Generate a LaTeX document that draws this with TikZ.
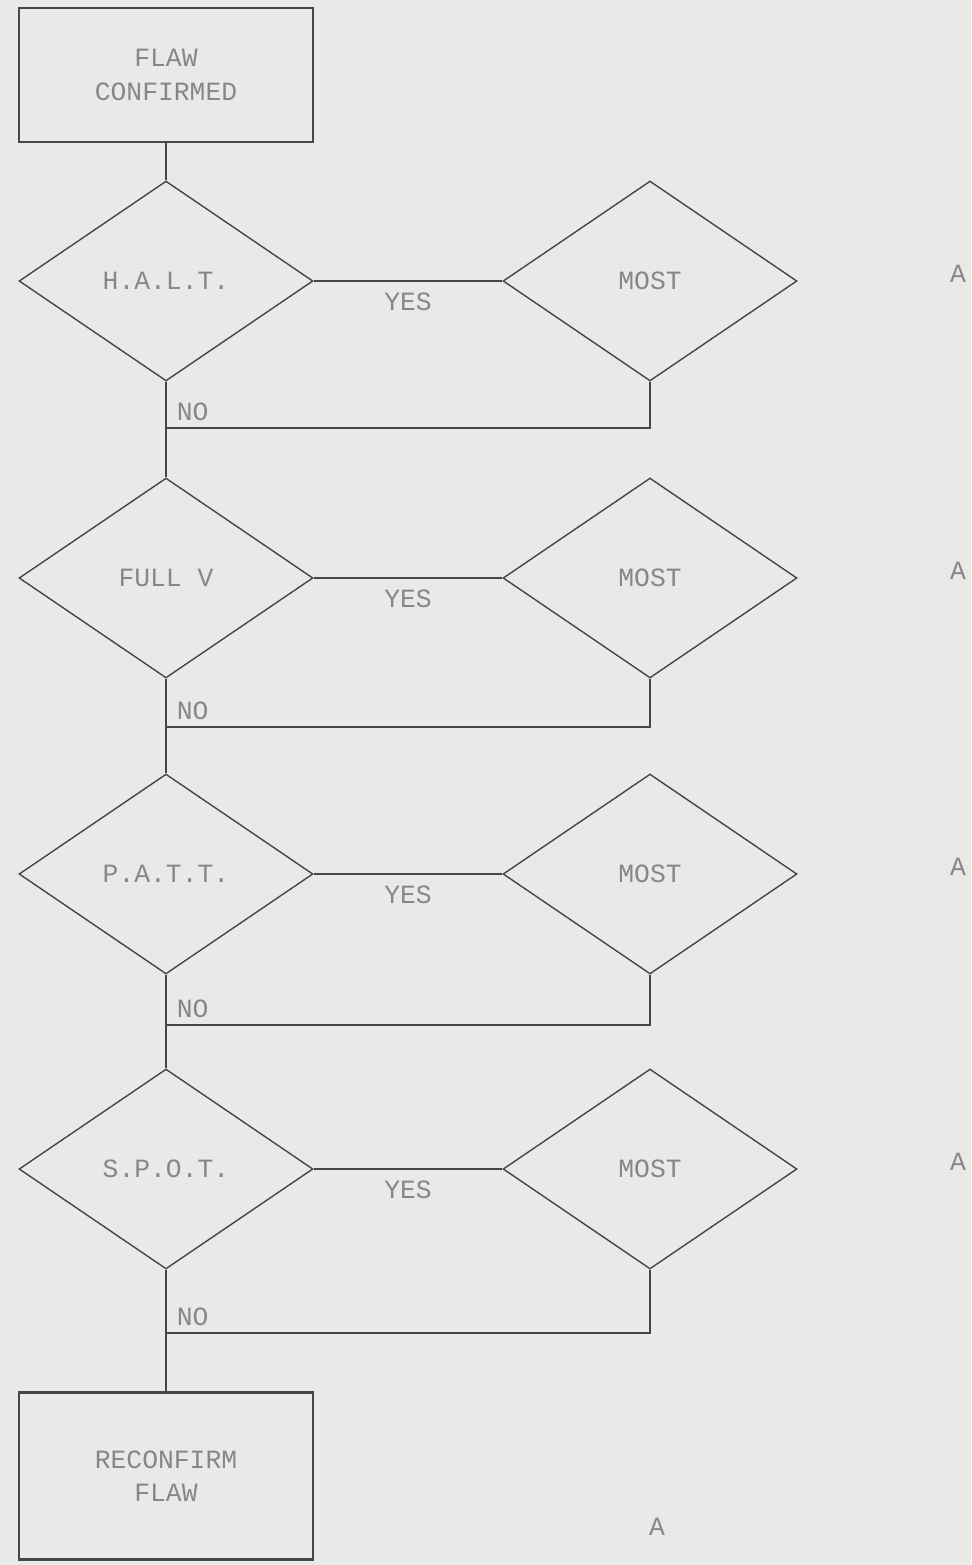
\documentclass[tikz,border=0pt]{standalone}
\usepackage{fontspec}
\setmainfont{Liberation Mono}
\usetikzlibrary{shapes.geometric,positioning}
\definecolor{paper}{RGB}{233,233,231}
\definecolor{ink}{RGB}{70,70,70}
\definecolor{typed}{RGB}{135,135,135}
\tikzset{
  card/.style={draw=ink, line width=1.3pt, minimum width=5.88cm, align=center,
               text=typed, inner sep=2pt},
  query/.style={draw=ink, diamond, line width=0.8pt, inner sep=0pt,
                minimum width=5.88cm, minimum height=4cm, text=typed},
  flow/.style={draw=ink, line width=0.8pt},
  tag/.style={text=typed, inner sep=1pt},
}
\begin{document}
\begin{tikzpicture}[x=0.02cm, y=-0.02cm, font=\fontsize{15}{19}\selectfont]
\fill[paper] (0,0) rectangle (971,1565);
\useasboundingbox (0,0) rectangle (971,1565);
\node[card, minimum height=2.68cm] (flaw) at (166,75) {FLAW\\CONFIRMED};
\foreach \i/\y/\ry/\t in {1/281/428/{H.A.L.T.}, 2/578/727/{FULL V},
                          3/874/1025/{P.A.T.T.}, 4/1169/1333/{S.P.O.T.}} {
  \node[query] (d\i) at (166,\y) {\t};
  \node[query] (m\i) at (650,\y) {MOST};
  \coordinate (r\i) at (166,\ry);
  \draw[flow, line width=1.2pt] (d\i.east) -- node[tag, below=5pt] {YES} (m\i.west);
  \draw[flow, line width=1.2pt] (m\i.south) |- (r\i);
  \node[tag, above right=3pt and 5pt of r\i] (no\i) {NO};
  \node[tag] (a\i) at (958,\y-7) {A};
}
\node[card, minimum height=3.34cm] (redo) at (166,1476) {RECONFIRM\\FLAW};
\node[tag] (a5) at (657,1527) {A};
\draw[flow] (flaw) -- (d1);
\foreach \i/\j in {1/2,2/3,3/4} {
  \draw[flow] (d\i) -- (d\j);
}
\draw[flow] (d4) -- (redo);
\end{tikzpicture}
\end{document}
